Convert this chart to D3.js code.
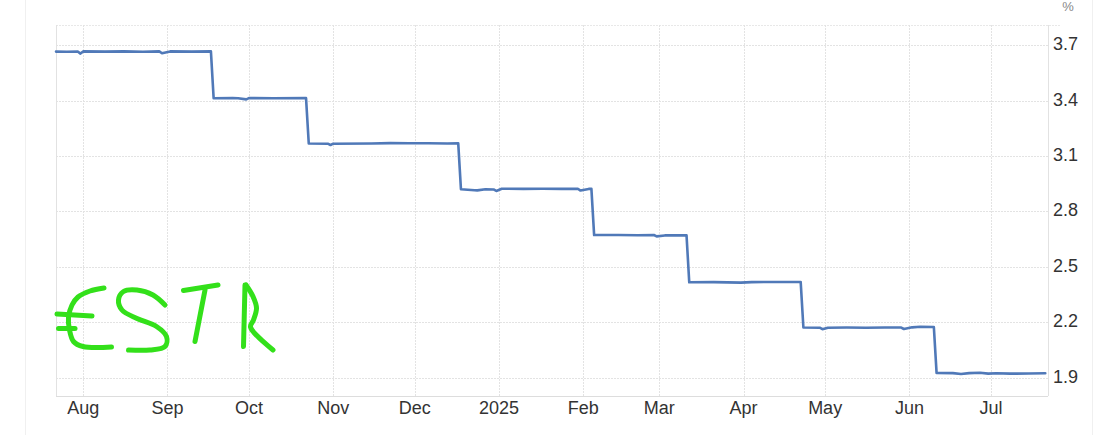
<!DOCTYPE html>
<html>
<head>
<meta charset="utf-8">
<script src="https://cdn.jsdelivr.net/npm/d3@7/dist/d3.min.js"></script>
<style>
  html, body { margin: 0; padding: 0; background: #ffffff; }
  svg { display: block; }
</style>
</head>
<body>
<svg id="chart" width="1102" height="435"></svg>
<script>
// ---------- data ----------
const dates = [
  "2024-07-22","2024-07-26","2024-07-30","2024-07-31","2024-08-01","2024-08-09","2024-08-16","2024-08-23","2024-08-29","2024-08-30","2024-09-02","2024-09-10","2024-09-17",
  "2024-09-18","2024-09-25","2024-09-27","2024-09-30","2024-10-01","2024-10-10","2024-10-22",
  "2024-10-23","2024-10-30","2024-10-31","2024-11-01","2024-11-15","2024-11-22","2024-11-29","2024-12-06","2024-12-13","2024-12-17",
  "2024-12-18","2024-12-23","2024-12-24","2024-12-27","2024-12-30","2024-12-31","2025-01-02","2025-01-10","2025-01-17","2025-01-24","2025-01-30","2025-01-31","2025-02-03","2025-02-04",
  "2025-02-05","2025-02-14","2025-02-21","2025-02-27","2025-02-28","2025-03-03","2025-03-11",
  "2025-03-12","2025-03-21","2025-03-31","2025-04-04","2025-04-14","2025-04-22",
  "2025-04-23","2025-04-29","2025-04-30","2025-05-02","2025-05-09","2025-05-16","2025-05-23","2025-05-29","2025-05-30","2025-06-02","2025-06-05","2025-06-10",
  "2025-06-11","2025-06-17","2025-06-20","2025-06-23","2025-06-27","2025-06-30","2025-07-03","2025-07-08","2025-07-15","2025-07-21"
];
const values = [
  3.666,3.665,3.666,3.655,3.667,3.666,3.667,3.665,3.667,3.657,3.667,3.666,3.667,
  3.413,3.414,3.413,3.407,3.414,3.413,3.414,
  3.168,3.167,3.160,3.167,3.168,3.170,3.169,3.169,3.168,3.169,
  2.920,2.915,2.914,2.920,2.919,2.911,2.923,2.922,2.923,2.922,2.923,2.913,2.922,2.922,
  2.672,2.672,2.671,2.672,2.665,2.670,2.670,
  2.416,2.417,2.414,2.417,2.418,2.418,
  2.171,2.170,2.162,2.170,2.171,2.170,2.171,2.171,2.163,2.172,2.175,2.174,
  1.925,1.924,1.919,1.924,1.926,1.921,1.923,1.921,1.922,1.923
];
const tickDates = ["2024-08-01","2024-09-01","2024-10-01","2024-11-01","2024-12-01","2025-01-01","2025-02-01","2025-03-01","2025-04-01","2025-05-01","2025-06-01","2025-07-01"];
const tickLabels = ["Aug","Sep","Oct","Nov","Dec","2025","Feb","Mar","Apr","May","Jun","Jul"];
const yTicks = [1.9, 2.2, 2.5, 2.8, 3.1, 3.4, 3.7];
const xDomain = ["2024-07-22","2025-07-22"];
const yDomain = [1.8, 3.81];
const unitLabel = "%";
const annotation = "€STR";

// ---------- layout ----------
const svg = d3.select("#chart");
const pL = 56, pR = 1048, pT = 25, pB = 396;
const font = "'Liberation Sans', Arial, sans-serif";

const parse = d3.utcParse("%Y-%m-%d");
const x = d3.scaleUtc().domain(xDomain.map(parse)).range([pL, pR]);
const y = d3.scaleLinear().domain(yDomain).range([pB, pT]);

// faint outer frame
svg.append("line").attr("x1", 25.5).attr("x2", 25.5).attr("y1", 0).attr("y2", 435)
  .attr("stroke", "#f0f0f0").attr("stroke-width", 1);
svg.append("line").attr("x1", 1092.5).attr("x2", 1092.5).attr("y1", 0).attr("y2", 435)
  .attr("stroke", "#f0f0f0").attr("stroke-width", 1);

// horizontal gridlines
const grid = svg.append("g");
grid.selectAll("line.h").data(yTicks).join("line")
  .attr("class", "h")
  .attr("x1", pL).attr("x2", pR)
  .attr("y1", d => Math.round(y(d)) + 0.5).attr("y2", d => Math.round(y(d)) + 0.5)
  .attr("stroke", "#e3e3e3").attr("stroke-width", 1).attr("stroke-dasharray", "2,1");
// top border (dotted)
grid.append("line").attr("x1", pL).attr("x2", 1060)
  .attr("y1", pT + 0.5).attr("y2", pT + 0.5)
  .attr("stroke", "#e8e8e8").attr("stroke-dasharray", "2,1");

// vertical gridlines
grid.selectAll("line.v").data(tickDates).join("line")
  .attr("class", "v")
  .attr("x1", d => Math.round(x(parse(d))) + 0.5).attr("x2", d => Math.round(x(parse(d))) + 0.5)
  .attr("y1", pT).attr("y2", pB)
  .attr("stroke", "#e3e3e3").attr("stroke-width", 1).attr("stroke-dasharray", "2,1");

// plot frame lines
svg.append("line").attr("x1", pL + 0.5).attr("x2", pL + 0.5).attr("y1", pT).attr("y2", pB)
  .attr("stroke", "#e2e2e2");
svg.append("line").attr("x1", pL).attr("x2", pR).attr("y1", pB + 0.5).attr("y2", pB + 0.5)
  .attr("stroke", "#dddddd");
svg.append("line").attr("x1", pR + 0.5).attr("x2", pR + 0.5).attr("y1", pT).attr("y2", pB)
  .attr("stroke", "#e2e2e2");

// x axis labels
svg.append("g").selectAll("text").data(tickDates).join("text")
  .attr("x", d => x(parse(d)))
  .attr("y", 414)
  .attr("text-anchor", "middle")
  .attr("font-family", font).attr("font-size", 18).attr("fill", "#333")
  .text((d, i) => tickLabels[i]);

// y axis labels (right)
svg.append("g").selectAll("text").data(yTicks).join("text")
  .attr("x", 1053)
  .attr("y", d => y(d) + 5)
  .attr("text-anchor", "start")
  .attr("font-family", font).attr("font-size", 18).attr("fill", "#333")
  .text(d => d3.format(".1f")(d));

// unit label
svg.append("text").attr("x", 1068).attr("y", 11)
  .attr("text-anchor", "middle")
  .attr("font-family", font).attr("font-size", 13).attr("fill", "#888")
  .text(unitLabel);

// series line
const data = dates.map((d, i) => ({ date: parse(d), value: values[i] }));
const line = d3.line().x(d => x(d.date)).y(d => y(d.value));
svg.append("path").datum(data)
  .attr("d", line)
  .attr("fill", "none")
  .attr("stroke", "#5079b8")
  .attr("stroke-width", 2.6)
  .attr("stroke-linejoin", "round")
  .attr("stroke-linecap", "round");

// handwritten annotation "€STR" (freehand strokes)
const hand = svg.append("g").attr("aria-label", annotation);
hand.append("title").text(annotation);
const strokes = [
  // €
  [[104,288],[90,291],[78,297],[72,305],[68.5,317],[69.5,330],[73.5,341.5],[83,346.5],[111.5,347]],
  [[57,314],[92,316]],
  [[58.5,328.5],[75,328.5]],
  // S
  [[165,305],[153,295],[137,290],[123.5,291.5],[118.5,300],[122,310],[137,318.5],[156.5,326.5],[166.5,336.5],[165,346.5],[150,350],[128.5,350]],
  // T
  [[183.5,290.5],[218,285]],
  [[205,290],[195,341.5]],
  // R
  [[245,285],[243.5,346.5]],
  [[246,285],[253,296.5],[256.5,308],[253.5,320],[250.5,327],[273,350]]
];
const handLine = d3.line().curve(d3.curveCatmullRom.alpha(0.5));
hand.selectAll("path").data(strokes).join("path")
  .attr("d", d => handLine(d))
  .attr("fill", "none")
  .attr("stroke", "#33e01a")
  .attr("stroke-width", 5)
  .attr("stroke-linecap", "round")
  .attr("stroke-linejoin", "round");
</script>
</body>
</html>
